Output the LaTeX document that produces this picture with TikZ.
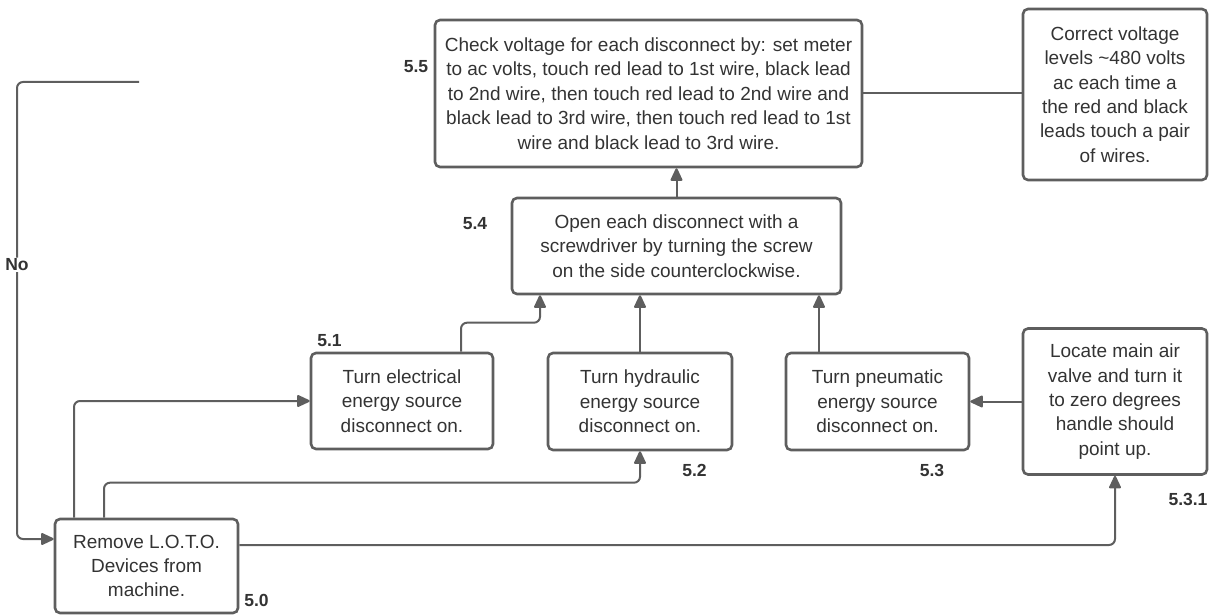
\documentclass[tikz,border=0pt]{standalone}
\usepackage{fontspec}
\setmainfont{Liberation Sans}
\usetikzlibrary{arrows.meta}
\definecolor{linegray}{HTML}{5E5E5E}
\definecolor{textgray}{HTML}{333333}
\begin{document}
\begin{tikzpicture}[x=1pt,y=-1pt,
  box/.style={draw=linegray,line width=2.6pt,rounded corners=5pt,align=center,
    text=textgray,font=\fontsize{19}{24.4}\selectfont,inner sep=0pt},
  arr/.style={draw=linegray,line width=2pt,rounded corners=6pt,
    -{Triangle[length=14pt,width=12.5pt,round=false]}},
  num/.style={font=\bfseries\fontsize{17.5}{20}\selectfont,text=textgray}]
\useasboundingbox (0,0) rectangle (1214,615);
\node[box,minimum width=427,minimum height=147] (check) at (648.5,93.5)
  {Check voltage for each disconnect by: set meter\\to ac volts, touch red lead to 1st wire, black lead\\to 2nd wire, then touch red lead to 2nd wire and\\black lead to 3rd wire, then touch red lead to 1st\\wire and black lead to 3rd wire.};
\node[box,minimum width=184,minimum height=171] (levels) at (1115,94.5)
  {Correct voltage\\levels \textasciitilde480 volts\\ac each time a\\the red and black\\leads touch a pair\\of wires.};
\node[box,minimum width=329,minimum height=96] (open) at (676.5,246)
  {Open each disconnect with a\\screwdriver by turning the screw\\on the side counterclockwise.};
\node[box,minimum width=182,minimum height=96] (elec) at (402,401)
  {Turn electrical\\energy source\\disconnect on.};
\node[box,minimum width=184,minimum height=97] (hyd) at (640,401.5)
  {Turn hydraulic\\energy source\\disconnect on.};
\node[box,minimum width=183,minimum height=97] (pneu) at (877.5,401.5)
  {Turn pneumatic\\energy source\\disconnect on.};
\node[box,minimum width=184,minimum height=146] (air) at (1115,401.5)
  {Locate main air\\valve and turn it\\to zero degrees\\handle should\\point up.};
\node[box,minimum width=183,minimum height=94] (loto) at (146.5,566)
  {Remove L.O.T.O.\\Devices from\\machine.};
\node[num] (n55) at (416,67) {5.5};
\node[num] (n54) at (475,224) {5.4};
\node[num] (n51) at (329.5,341) {5.1};
\node[num] (n52) at (694.5,470) {5.2};
\node[num] (n53) at (932,470) {5.3};
\node[num] (n531) at (1188,499) {5.3.1};
\node[num] (n50) at (256.5,600) {5.0};
\coordinate (noend) at (139,82);
\draw[arr] (noend) -- ++(-122,0) |- ([yshift=27pt]loto.west)
  node[pos=0.2,fill=white,num,inner sep=1pt] (no) {No};
\draw[arr] ([xshift=-72.5pt]loto.north) |- (elec.west);
\draw[arr] ([xshift=-42.5pt]loto.north) -- ++(0,-35) -| (hyd.south);
\draw[arr] ([yshift=21pt]loto.east) -| (air.south);
\draw[arr] (air.west) -- (pneu.east);
\draw[arr] ([xshift=59pt]elec.north) -- ++(0,-29) -| ([xshift=-136.5pt]open.south);
\draw[arr] (hyd.north) -- (hyd.north |- open.south);
\draw[arr] ([xshift=-58.5pt]pneu.north) -- ([xshift=-58.5pt]pneu.north |- open.south);
\draw[arr] (open.north) -- (open.north |- check.south);
\draw[draw=linegray,line width=2pt] (check.east) -- (check.east -| levels.west);
\end{tikzpicture}
\end{document}
